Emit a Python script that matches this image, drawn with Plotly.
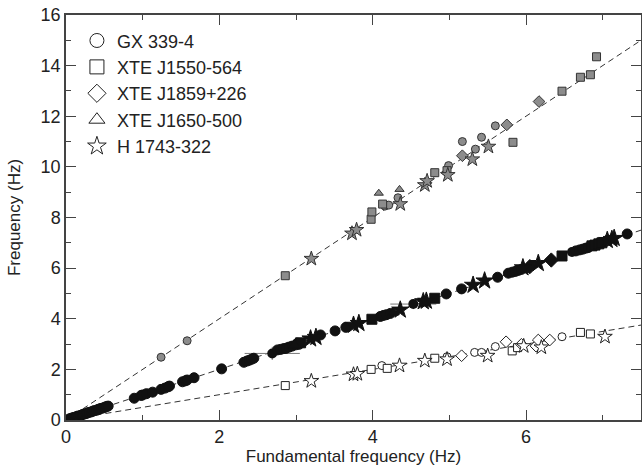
import plotly.graph_objects as go

# ---------------- data ----------------
# Line slopes (harmonic 2:1, fundamental 1:1, sub-harmonic 1:2)
line_slopes = [2.0, 1.0, 0.5]
line_x = [0.0, 7.5]

# Upper branch (harmonic, grey filled)
gx_harm_x = [1.24, 1.58, 4.16, 4.21, 4.33, 4.99, 5.17, 5.34, 5.42, 5.60]
gx_harm_y = [2.48, 3.13, 8.45, 8.49, 8.78, 10.05, 11.00, 10.70, 11.17, 11.62]
j1550_harm_x = [2.86, 3.98, 3.99, 4.13, 4.81, 4.97, 5.83, 6.47, 6.71, 6.84, 6.92]
j1550_harm_y = [5.70, 7.93, 8.22, 8.53, 9.77, 9.85, 10.97, 12.99, 13.54, 13.64, 14.35]
j1859_harm_x = [5.17, 5.75, 6.17]
j1859_harm_y = [10.44, 11.66, 12.58]
j1650_harm_x = [4.08, 4.35]
j1650_harm_y = [8.96, 9.11]
h1743_harm_x = [3.20, 3.73, 3.79, 4.36, 4.68, 4.71, 4.98, 5.30, 5.51]
h1743_harm_y = [6.37, 7.37, 7.51, 8.53, 9.28, 9.44, 9.68, 10.30, 10.80]

# Middle branch (fundamental, black filled)
gx_fund_x = [0.04, 0.06, 0.08, 0.10, 0.12, 0.14, 0.16, 0.19, 0.21, 0.23, 0.26, 0.28,
             0.30, 0.33, 0.35, 0.37, 0.40, 0.42, 0.44, 0.46, 0.49, 0.51, 0.53, 0.55,
             0.89, 0.98, 1.00, 1.05, 1.13, 1.24, 1.29, 1.33, 1.35, 1.52, 1.56, 1.58,
             1.67, 2.03, 2.32, 2.36, 2.39, 2.42, 2.45, 2.76, 2.80, 2.84, 2.87, 2.91,
             2.95, 3.00, 3.04, 3.32, 3.51, 3.65, 4.10, 4.14, 4.18, 4.23, 4.96, 5.16,
             5.63, 5.77, 5.82, 5.86, 5.90, 5.94, 6.65, 6.70, 6.74, 6.78, 6.81, 7.32]
gx_fund_y = [0.04, 0.06, 0.08, 0.10, 0.11, 0.14, 0.16, 0.18, 0.21, 0.23, 0.25, 0.28,
             0.30, 0.32, 0.35, 0.37, 0.39, 0.42, 0.44, 0.46, 0.48, 0.51, 0.53, 0.55,
             0.86, 0.97, 0.99, 1.04, 1.10, 1.21, 1.26, 1.31, 1.34, 1.51, 1.55, 1.58,
             1.67, 2.02, 2.28, 2.33, 2.36, 2.40, 2.44, 2.77, 2.79, 2.82, 2.83, 2.88,
             2.92, 2.97, 2.99, 3.36, 3.52, 3.66, 4.09, 4.13, 4.16, 4.21, 4.98, 5.18,
             5.64, 5.80, 5.84, 5.87, 5.91, 5.95, 6.68, 6.72, 6.75, 6.79, 6.81, 7.35]
j1550_fund_x = [3.06, 3.99, 4.81, 6.47, 6.86, 6.90, 6.95, 6.99]
j1550_fund_y = [3.05, 3.98, 4.81, 6.48, 6.88, 6.91, 6.96, 7.00]
j1859_fund_x = [6.05, 6.33]
j1859_fund_y = [6.06, 6.32]
j1650_fund_x = [2.98, 4.27]
j1650_fund_y = [2.96, 4.25]
h1743_fund_x = [3.19, 3.26, 3.75, 3.82, 4.36, 4.66, 4.70, 5.31, 5.46, 5.96, 6.16, 7.06, 7.12, 7.15]
h1743_fund_y = [3.21, 3.27, 3.75, 3.82, 4.35, 4.68, 4.70, 5.33, 5.50, 6.02, 6.19, 7.10, 7.14, 7.18]

# Points with error bars (fundamental branch)
err_x = [2.69, 3.02, 4.53, 6.60]
err_y = [2.63, 3.05, 4.58, 6.64]
err_dx = [0.36, 0.16, 0.30, 0.14]
err_dy = [0.26, 0.12, 0.20, 0.10]

# Lower branch (sub-harmonic, open)
gx_sub_x = [4.12, 4.97, 5.33, 5.42, 5.60, 6.47]
gx_sub_y = [2.15, 2.50, 2.67, 2.67, 2.90, 3.29]
j1550_sub_x = [2.86, 3.98, 4.19, 4.81, 5.82, 5.89, 6.71, 6.84]
j1550_sub_y = [1.36, 2.00, 2.04, 2.44, 2.73, 2.86, 3.46, 3.40]
j1859_sub_x = [5.16, 5.74, 5.94, 6.13, 6.16, 6.31]
j1859_sub_y = [2.54, 3.09, 2.99, 2.92, 3.16, 3.16]
h1743_sub_x = [3.20, 3.75, 3.80, 4.35, 4.68, 4.97, 5.50, 5.97, 6.20, 7.03]
h1743_sub_y = [1.54, 1.80, 1.82, 2.15, 2.34, 2.40, 2.54, 2.92, 2.87, 3.29]

source_names = ["GX 339-4", "XTE J1550-564", "XTE J1859+226", "XTE J1650-500", "H 1743-322"]
source_symbols = ["circle", "square", "diamond", "triangle-up", "star"]
source_sizes = [8, 8, 9, 8, 11]

x_ticks = [0, 2, 4, 6]
y_ticks = [0, 2, 4, 6, 8, 10, 12, 14, 16]

# ---------------- figure ----------------
fig = go.Figure()

for s in line_slopes:
    fig.add_trace(go.Scatter(x=line_x, y=[s * v for v in line_x], mode="lines",
                             line=dict(color="#333333", width=1, dash="6px,4px"),
                             showlegend=False, hoverinfo="skip"))

branches = [
    ("#8c8c8c", "#333333", 0, [(gx_harm_x, gx_harm_y), (j1550_harm_x, j1550_harm_y),
                               (j1859_harm_x, j1859_harm_y), (j1650_harm_x, j1650_harm_y),
                               (h1743_harm_x, h1743_harm_y)]),
    ("#111111", "#111111", 2, [(gx_fund_x, gx_fund_y), (j1550_fund_x, j1550_fund_y),
                               (j1859_fund_x, j1859_fund_y), (j1650_fund_x, j1650_fund_y),
                               (h1743_fund_x, h1743_fund_y)]),
    ("#ffffff", "#222222", 0, [(gx_sub_x, gx_sub_y), (j1550_sub_x, j1550_sub_y),
                               (j1859_sub_x, j1859_sub_y), ([], []),
                               (h1743_sub_x, h1743_sub_y)]),
]

# error-bar points first (drawn under markers)
fig.add_trace(go.Scatter(x=err_x, y=err_y, mode="markers",
                         marker=dict(symbol="circle", size=10, color="#111111"),
                         error_x=dict(type="data", array=err_dx, color="#777777", thickness=1, width=0),
                         error_y=dict(type="data", array=err_dy, color="#777777", thickness=1, width=0),
                         showlegend=False))

for fill, edge, extra, sets in branches:
    for (xs, ys), sym, sz in zip(sets, source_symbols, source_sizes):
        if not xs:
            continue
        fig.add_trace(go.Scatter(x=xs, y=ys, mode="markers",
                                 marker=dict(symbol=sym, size=sz + extra, color=fill,
                                             line=dict(color=edge, width=1)),
                                 showlegend=False))

# legend entries (open symbols)
for name, sym in zip(source_names, source_symbols):
    fig.add_trace(go.Scatter(x=[None], y=[None], mode="markers", name=name,
                             marker=dict(symbol=sym, size=14, color="white",
                                         line=dict(color="#222222", width=1))))

axis_common = dict(showline=True, linecolor="#444444", linewidth=1.5, mirror="ticks",
                   ticks="inside", ticklen=10, tickwidth=1.2, tickcolor="#444444",
                   showgrid=False, zeroline=False, automargin=False,
                   tickfont=dict(family="Liberation Sans, Arial", size=18, color="#222222"))

fig.update_layout(
    width=642, height=466,
    margin=dict(l=66, r=1, t=15, b=46),
    paper_bgcolor="white", plot_bgcolor="white",
    font=dict(family="Liberation Sans, Arial", color="#222222"),
    xaxis=dict(range=[0, 7.5], tickvals=x_ticks,
               minor=dict(ticks="inside", dtick=1, ticklen=5, tickcolor="#444444"),
               title=dict(text="Fundamental frequency (Hz)", font=dict(size=17), standoff=0),
               **axis_common),
    yaxis=dict(range=[0, 16], tickvals=y_ticks,
               minor=dict(ticks="inside", dtick=1, ticklen=5, tickcolor="#444444"),
               title=dict(text="Frequency (Hz)", font=dict(size=17), standoff=16),
               **axis_common),
    legend=dict(x=0.019, y=0.982, xanchor="left", yanchor="top",
                bgcolor="rgba(0,0,0,0)", borderwidth=0,
                font=dict(family="Liberation Sans, Arial", size=18, color="#222222"),
                itemwidth=30, tracegroupgap=0),
    showlegend=True,
)

post_js = ("document.body.style.margin='0px';"
           "document.body.style.overflow='hidden';"
           "var gd=document.getElementById('{plot_id}');"
           "Plotly.relayout(gd,{width:642,height:466});")

fig.write_html("out.html", post_script=post_js, config={"displayModeBar": False})
